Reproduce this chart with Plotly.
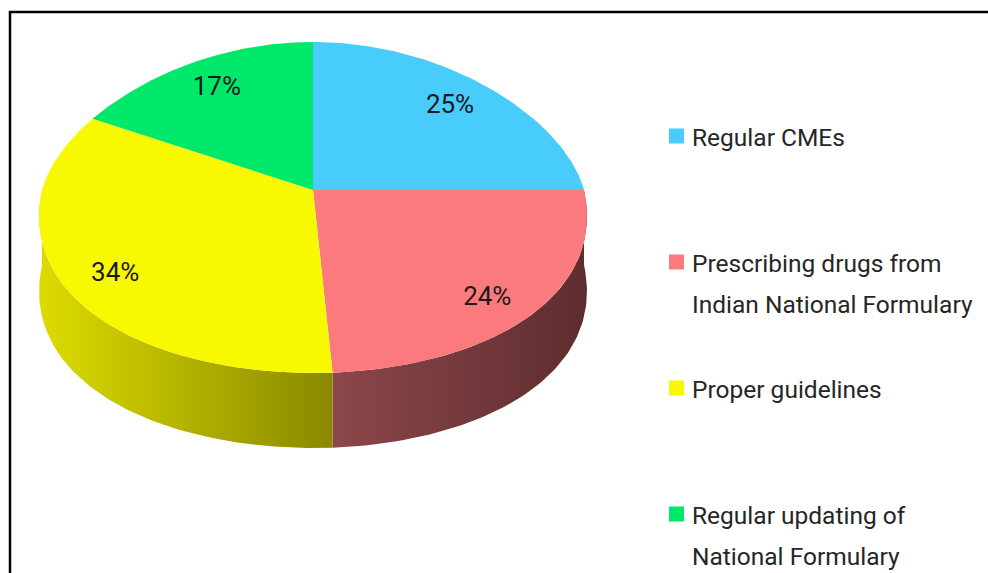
import numpy as np
import plotly.graph_objects as go

# ---- data -------------------------------------------------------------
categories = [
    "Regular CMEs",
    "Prescribing drugs from Indian National Formulary",
    "Proper guidelines",
    "Regular updating of National Formulary",
]
legend_lines = [
    ["Regular CMEs"],
    ["Prescribing drugs from", "Indian National Formulary"],
    ["Proper guidelines"],
    ["Regular updating of", "National Formulary"],
]
values = [25, 24, 34, 17]
top_colors = ["#48CCFC", "#FA7A7E", "#F8F800", "#00E86A"]
side_colors = [
    ("#2a8fb8", "#1f6f90"),
    ("#8c474a", "#5e2c2f"),
    ("#dcdc00", "#8a8800"),
    ("#00a04a", "#007a38"),
]

# ---- pie geometry (pixel space of the figure) -------------------------
W, H = 988, 573
CX, CY = 313, 190          # apex of the pie on the top face
RX = 271                   # horizontal radius
RY_BACK, RY_FRONT = 148, 183   # perspective: far half flatter than near half
PERSP = 0.15               # far half slightly narrower, near half wider
DEPTH = 75                 # thickness of the disc
FONT = "Roboto, Lato, sans-serif"


def rim(theta_deg, r=1.0, drop=0.0, front_scale=1.0):
    t = np.radians(theta_deg)
    s = np.sin(t)
    rx = RX * (1 - PERSP * s)
    ry = np.where(s > 0, RY_BACK, RY_FRONT * front_scale)
    x = CX + r * rx * np.cos(t)
    y = CY - r * ry * s + drop
    return x, y


total = float(sum(values))
spans = [v / total * 360.0 for v in values]
starts = 90.0 - np.concatenate([[0.0], np.cumsum(spans)[:-1]])
ends = starts - np.array(spans)

fig = go.Figure()

# side walls: only the near half (angles between 0 and -180) is visible
for a, b, (c0, c1) in zip(starts, ends, side_colors):
    lo, hi = max(b, -180.0), min(a, 0.0)
    if hi <= lo:
        continue
    th = np.linspace(hi, lo, 80)
    xt, yt = rim(th)
    xb, yb = rim(th[::-1], drop=DEPTH)
    xs = np.concatenate([xt, xb, xt[:1]])
    ys = np.concatenate([yt, yb, yt[:1]])
    fig.add_trace(go.Scatter(
        x=xs, y=ys, mode="lines", line=dict(width=0), fill="toself",
        fillgradient=dict(type="horizontal",
                          colorscale=[[0, c0], [1, c1]]),
        hoverinfo="skip", showlegend=False))

# top faces
for a, b, col, name, v in zip(starts, ends, top_colors, categories, values):
    th = np.linspace(a, b, 120)
    xr, yr = rim(th)
    xs = np.concatenate([[CX], xr, [CX]])
    ys = np.concatenate([[CY], yr, [CY]])
    fig.add_trace(go.Scatter(
        x=xs, y=ys, mode="lines", line=dict(width=0, color=col),
        fill="toself", fillcolor=col, name=name,
        hovertext=f"{name}: {v}%", hoverinfo="text", showlegend=False))

# percentage labels (near-half labels sit a little lower)
mids = (starts + ends) / 2.0
lx, ly = rim(mids, r=0.8, front_scale=1.08)
fig.add_trace(go.Scatter(
    x=lx, y=ly, mode="text", text=[f"{v}%" for v in values],
    textfont=dict(family=FONT, size=26, color="#1a1a1a"),
    hoverinfo="skip", showlegend=False))

# legend: colour key plus text, entries evenly spaced
LEG_X, LEG_Y0, LEG_STEP, LINE_H = 669, 136, 126, 41
annotations = []
shapes = []
for i, (lines, col) in enumerate(zip(legend_lines, top_colors)):
    y0 = LEG_Y0 + i * LEG_STEP
    shapes.append(dict(type="rect", xref="x", yref="y",
                       x0=LEG_X, x1=LEG_X + 15, y0=y0 - 7.5, y1=y0 + 7.5,
                       fillcolor=col, line=dict(width=0)))
    for j, txt in enumerate(lines):
        annotations.append(dict(
            x=LEG_X + 21, y=y0 + j * LINE_H + 1, xref="x", yref="y",
            text=txt, showarrow=False, xanchor="left", yanchor="middle",
            font=dict(family=FONT, size=24.5, color="#262626")))

# outer frame
shapes.append(dict(type="rect", xref="x", yref="y", x0=10, y0=12,
                   x1=W + 20, y1=H + 20, line=dict(color="black", width=2.5),
                   fillcolor="rgba(0,0,0,0)"))

fig.update_layout(
    width=W, height=H, margin=dict(l=0, r=0, t=0, b=0),
    paper_bgcolor="white", plot_bgcolor="white",
    xaxis=dict(range=[0, W], visible=False, fixedrange=True),
    yaxis=dict(range=[H, 0], visible=False, fixedrange=True),
    shapes=shapes, annotations=annotations, showlegend=False,
)

fig.write_html("out.html")
